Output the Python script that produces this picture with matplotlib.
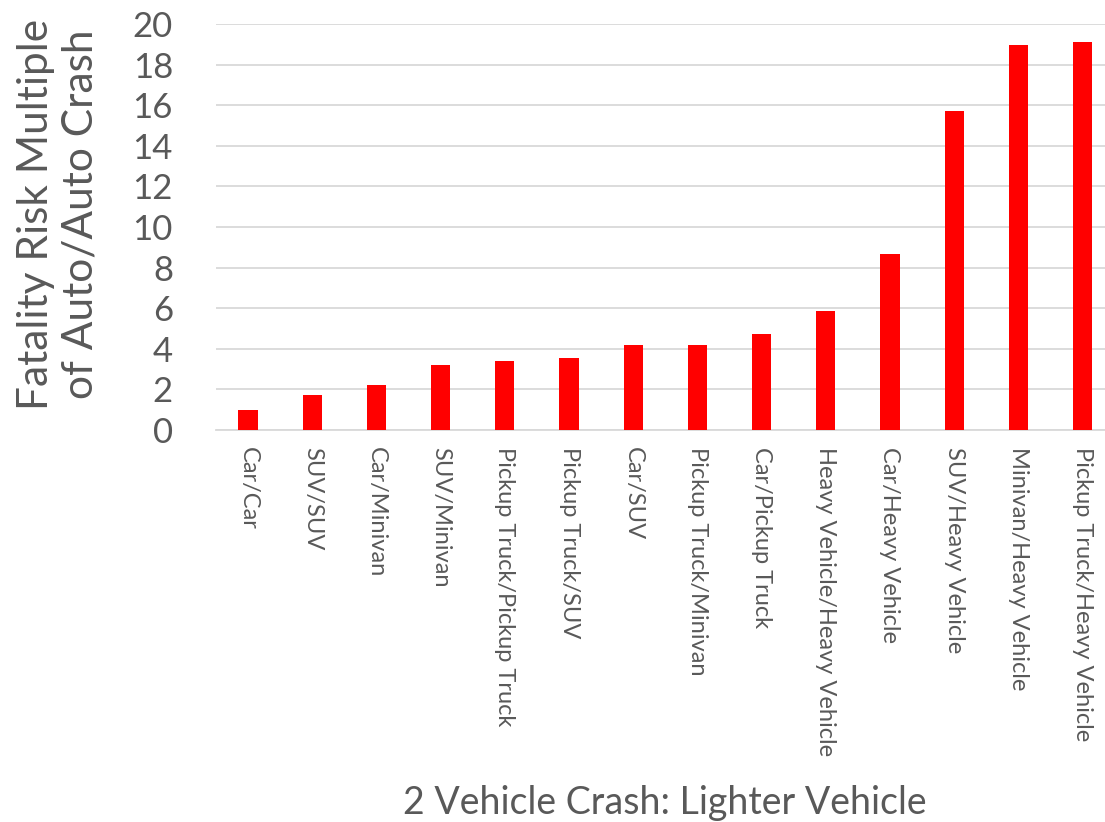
import matplotlib
matplotlib.use("Agg")
import matplotlib.pyplot as plt

# Data
crash_types = ["Car/Car", "SUV/SUV", "Car/Minivan", "SUV/Minivan",
               "Pickup Truck/Pickup Truck", "Pickup Truck/SUV", "Car/SUV",
               "Pickup Truck/Minivan", "Car/Pickup Truck",
               "Heavy Vehicle/Heavy Vehicle", "Car/Heavy Vehicle",
               "SUV/Heavy Vehicle", "Minivan/Heavy Vehicle",
               "Pickup Truck/Heavy Vehicle"]
risk_multiple = [1.0, 1.7, 2.2, 3.2, 3.4, 3.55, 4.2, 4.2, 4.75, 5.85,
                 8.65, 15.7, 18.95, 19.1]
y_ticks = [0, 2, 4, 6, 8, 10, 12, 14, 16, 18, 20]

plt.rcParams['font.family'] = ['Lato', 'DejaVu Sans']
text_col = '#595959'
grid_col = '#D9D9D9'

fig = plt.figure(figsize=(11.05, 8.22), dpi=100)
ax = fig.add_axes([216/1105, 392/822, 1 - 216/1105, 406/822])

x = range(len(crash_types))
ax.bar(x, risk_multiple, width=0.3, color='#FF0000', zorder=3)

ax.set_ylim(0, 20)
ax.set_xlim(-0.5, 13.35)
ax.set_yticks(y_ticks)
ax.set_xticks(list(x))
ax.set_xticklabels(crash_types, rotation=270, fontsize=17, color=text_col)
ax.tick_params(axis='y', labelsize=25, labelcolor=text_col, length=0, pad=31)
ax.tick_params(axis='x', length=0, pad=12)

ax.grid(axis='y', color=grid_col, linewidth=1.3, zorder=0)
for s in ['top', 'right', 'left']:
    ax.spines[s].set_visible(False)
ax.spines['bottom'].set_color(grid_col)
ax.spines['bottom'].set_linewidth(1.3)

fig.text(58/1105, 1 - 214/822, "Fatality Risk Multiple\nof Auto/Auto Crash",
         rotation=90, ha='center', va='center', fontsize=30.5, color=text_col,
         linespacing=1.2)
fig.text(665/1105, 1 - 803/822, "2 Vehicle Crash: Lighter Vehicle",
         ha='center', va='center', fontsize=27, color=text_col)

fig.savefig("out.png", dpi=100)
